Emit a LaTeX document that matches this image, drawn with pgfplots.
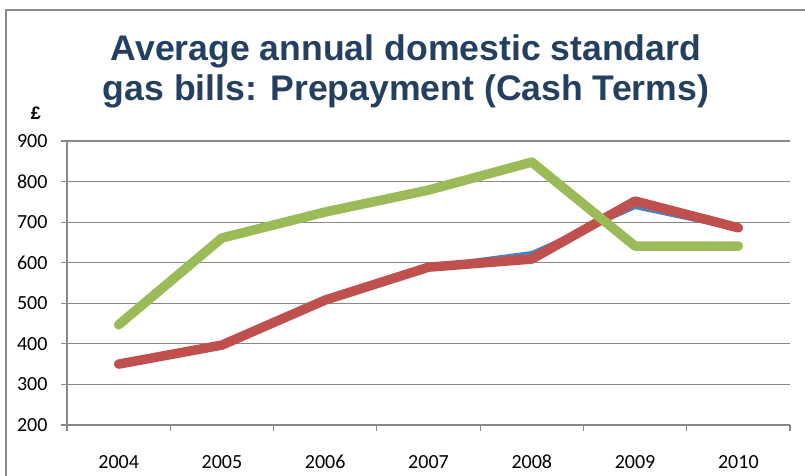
\documentclass[border=0pt]{standalone}
\usepackage{pgfplots}
\pgfplotsset{compat=1.18}
\usepackage{fontspec}
\setmainfont{Carlito}[Numbers=Lining]
\newfontfamily\titlefont{Liberation Sans}
\definecolor{gridgray}{HTML}{888888}
\definecolor{titleblue}{HTML}{243F60}
\definecolor{sblue}{HTML}{4F81BD}
\definecolor{sred}{HTML}{C0504D}
\definecolor{sgreen}{HTML}{9BBB59}

\pgfplotstableread{
x blue red green
0 352 350 447
1 400 397 661
2 502 508 725
3 590 589 779
4 624 609 848
5 737 752 641
6 683 686 641
}\gasdata

\begin{document}
\begin{tikzpicture}[x=1pt,y=1pt]
\useasboundingbox (0,0) rectangle (805,476);
\draw[gridgray,line width=1.2pt] (6,-5) -- (6,466) -- (810,466);
\node[text=titleblue,align=center,
  font=\titlefont\bfseries\fontsize{35.6}{40}\selectfont] at (406,405) {Average annual domestic standard\\gas bills: Prepayment (Cash Terms)};
\node[font=\titlefont\bfseries\fontsize{18}{22}\selectfont] at (36,363) {£};
\begin{axis}[
  at={(67pt,51pt)},anchor=south west,
  scale only axis,width=723pt,height=284pt,
  xmin=-0.5,xmax=6.5,ymin=200,ymax=900,
  axis lines*=left,
  axis line style={gridgray,line width=1.2pt},
  xtick={0,...,6},xticklabels={2004,2005,2006,2007,2008,2009,2010},
  major x tick style={draw=none},
  minor xtick={-0.5,0.5,...,6.5},
  minor x tick style={gridgray,line width=1.2pt},
  ytick={200,300,...,900},
  ymajorgrids,
  major grid style={gridgray,line width=1.2pt},
  tick align=outside,
  major tick length=6pt,minor tick length=6pt,
  y tick style={gridgray,line width=1.2pt},
  ticklabel style={font=\fontsize{20}{24}\selectfont},
  /pgf/number format/assume math mode=true,
  xticklabel style={anchor=north,text height=13pt,text depth=0pt,yshift=-21pt},
  yticklabel style={xshift=-10pt},
  clip=false,
]
\addplot[sblue,line width=4pt,line cap=round,line join=round] table[x=x,y=blue]{\gasdata};
\addplot[sred,line width=9.5pt,line cap=round,line join=round] table[x=x,y=red]{\gasdata};
\addplot[sgreen,line width=9.5pt,line cap=round,line join=round] table[x=x,y=green]{\gasdata};
\end{axis}
\end{tikzpicture}
\end{document}
